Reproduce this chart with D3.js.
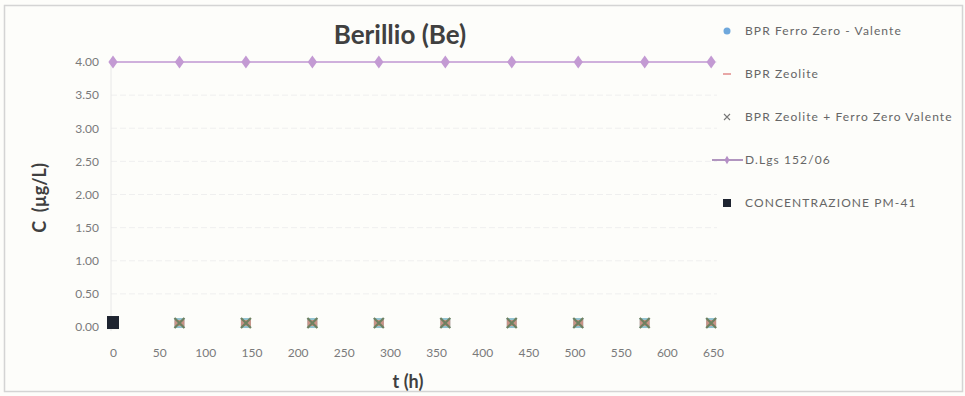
<!DOCTYPE html>
<html>
<head>
<meta charset="utf-8">
<script src="https://cdn.jsdelivr.net/npm/d3@7/dist/d3.min.js"></script>
<style>
  html, body { margin: 0; padding: 0; background: #fdfdfa; }
  svg { display: block; }
</style>
</head>
<body>
<svg id="chart" width="965" height="396"></svg>
<script>
// Sampling times (h) and measured concentrations (µg/L)
const timesLimit = [0, 72, 144, 216, 288, 360, 432, 504, 576, 648];
const limitValues = [4, 4, 4, 4, 4, 4, 4, 4, 4, 4];
const timesBPR = [72, 144, 216, 288, 360, 432, 504, 576, 648];
const ferroZeroValues = [0.06, 0.06, 0.06, 0.06, 0.06, 0.06, 0.06, 0.06, 0.06];
const zeoliteValues = [0.06, 0.06, 0.06, 0.06, 0.06, 0.06, 0.06, 0.06, 0.06];
const zeoliteFerroValues = [0.06, 0.06, 0.06, 0.06, 0.06, 0.06, 0.06, 0.06, 0.06];
const pm41Times = [0];
const pm41Values = [0.06];
const xTicks = [0, 50, 100, 150, 200, 250, 300, 350, 400, 450, 500, 550, 600, 650];
const yTicks = [0, 0.5, 1, 1.5, 2, 2.5, 3, 3.5, 4];
const legendLabels = [
  "BPR Ferro Zero - Valente",
  "BPR Zeolite",
  "BPR Zeolite + Ferro Zero Valente",
  "D.Lgs 152/06",
  "CONCENTRAZIONE PM-41"
];

const svg = d3.select("#chart");
const font = "Lato, 'Open Sans', sans-serif";

// outer chart frame
svg.append("rect").attr("x", 4.5).attr("y", 5.5).attr("width", 958).attr("height", 386)
  .attr("fill", "#fdfdfa").attr("stroke", "#d4d4d4").attr("stroke-width", 1.5);

const x = d3.scaleLinear().domain([0, 650]).range([113, 713]);
const y = d3.scaleLinear().domain([0, 4]).range([327, 62]);

// horizontal gridlines
svg.append("g").selectAll("line").data(yTicks.filter(v => v > 0)).join("line")
  .attr("x1", x(0) - 2).attr("x2", x(650) + 4)
  .attr("y1", d => y(d)).attr("y2", d => y(d))
  .attr("stroke", "#efefef").attr("stroke-width", 1).attr("stroke-dasharray", "6,3");

// y axis line
svg.append("line").attr("x1", x(0) - 2).attr("x2", x(0) - 2).attr("y1", y(4)).attr("y2", y(0) + 4)
  .attr("stroke", "#e8e8e8");

// axes (labels only)
const yAxis = d3.axisLeft(y).tickValues(yTicks).tickFormat(d3.format(".2f")).tickSize(0).tickPadding(0);
svg.append("g").attr("transform", `translate(${x(0) - 14},0)`).call(yAxis)
  .call(g => g.select(".domain").remove())
  .selectAll("text").attr("fill", "#7a7a7a").attr("font-family", font).attr("font-size", 12);

const xAxis = d3.axisBottom(x).tickValues(xTicks).tickFormat(d3.format("d")).tickSize(0).tickPadding(0);
svg.append("g").attr("transform", `translate(0,${y(0) + 30})`).call(xAxis)
  .call(g => g.select(".domain").remove())
  .selectAll("text").attr("fill", "#7a7a7a").attr("font-family", font).attr("font-size", 12)
  .attr("dy", "0");

// limit line (D.Lgs 152/06)
const limitData = timesLimit.map((t, i) => ({ t, v: limitValues[i] }));
const lineGen = d3.line().x(d => x(d.t)).y(d => y(d.v));
svg.append("path").datum(limitData).attr("d", lineGen)
  .attr("fill", "none").attr("stroke", "#cfb0dc").attr("stroke-width", 1.8);
const diamond = d3.symbol().type(d3.symbolDiamond).size(48);
svg.append("g").selectAll("path").data(limitData).join("path")
  .attr("transform", d => `translate(${x(d.t)},${y(d.v)}) scale(1.25,1)`)
  .attr("d", diamond).attr("fill", "#c39ad3");

// BPR series: circle, dash and cross overlapping
const ferroData = timesBPR.map((t, i) => ({ t, v: ferroZeroValues[i] }));
const zeolData = timesBPR.map((t, i) => ({ t, v: zeoliteValues[i] }));
const zfData = timesBPR.map((t, i) => ({ t, v: zeoliteFerroValues[i] }));

svg.append("g").selectAll("rect").data(ferroData).join("rect")
  .attr("x", d => x(d.t) - 5).attr("y", d => y(d.v) - 5).attr("width", 10).attr("height", 10)
  .attr("fill", "#7fb8c8").attr("opacity", 0.85);
svg.append("g").selectAll("rect").data(zeolData).join("rect")
  .attr("x", d => x(d.t) - 5).attr("y", d => y(d.v) - 3).attr("width", 10).attr("height", 6)
  .attr("fill", "#d9826e").attr("opacity", 0.75);
svg.append("g").selectAll("path").data(zfData).join("path")
  .attr("d", d => {
    const cx = x(d.t), cy = y(d.v), r = 5;
    return `M${cx - r},${cy - r}L${cx + r},${cy + r}M${cx - r},${cy + r}L${cx + r},${cy - r}`;
  })
  .attr("stroke", "#6f8060").attr("stroke-width", 2.2).attr("fill", "none");

// PM-41 concentration
const pmData = pm41Times.map((t, i) => ({ t, v: pm41Values[i] }));
svg.append("g").selectAll("rect").data(pmData).join("rect")
  .attr("x", d => x(d.t) - 6).attr("y", d => y(d.v) - 7).attr("width", 12).attr("height", 13)
  .attr("fill", "#1e2430");

// title and axis titles
svg.append("text").attr("x", 400).attr("y", 44).attr("text-anchor", "middle")
  .attr("font-family", font).attr("font-weight", "bold").attr("font-size", 26)
  .attr("fill", "#404040").text("Berillio (Be)");
svg.append("text").attr("x", 408).attr("y", 388).attr("text-anchor", "middle")
  .attr("font-family", font).attr("font-weight", "bold").attr("font-size", 18)
  .attr("fill", "#404040").text("t (h)");
svg.append("text").attr("transform", "translate(46,198) rotate(-90)").attr("text-anchor", "middle")
  .attr("font-family", font).attr("font-weight", "bold").attr("font-size", 18)
  .attr("fill", "#404040").attr("xml:space", "preserve").style("white-space", "pre")
  .text("C  (µg/L)");

// legend
const legY = [31, 74, 117, 160, 203];
const leg = svg.append("g");
legendLabels.forEach((lab, i) => {
  leg.append("text").attr("x", 745).attr("y", legY[i] + 4)
    .attr("font-family", font).attr("font-size", 12).attr("letter-spacing", 1.1)
    .attr("fill", "#666").text(lab);
});
const mx = 727;
leg.append("circle").attr("cx", mx).attr("cy", legY[0]).attr("r", 3.5).attr("fill", "#6fa8dc");
leg.append("line").attr("x1", mx - 4).attr("x2", mx + 4).attr("y1", legY[1]).attr("y2", legY[1])
  .attr("stroke", "#e08a8a").attr("stroke-width", 1.5);
leg.append("path").attr("d", `M${mx - 3},${legY[2] - 3}L${mx + 3},${legY[2] + 3}M${mx - 3},${legY[2] + 3}L${mx + 3},${legY[2] - 3}`)
  .attr("stroke", "#777").attr("stroke-width", 1.1);
leg.append("line").attr("x1", 712).attr("x2", 743).attr("y1", legY[3]).attr("y2", legY[3])
  .attr("stroke", "#a98ab8").attr("stroke-width", 1.8);
leg.append("path").attr("transform", `translate(${mx},${legY[3]})`)
  .attr("d", d3.symbol().type(d3.symbolDiamond).size(22)).attr("fill", "#b58fc6");
leg.append("rect").attr("x", mx - 4).attr("y", legY[4] - 4).attr("width", 8).attr("height", 8)
  .attr("fill", "#1e2430");
</script>
</body>
</html>
